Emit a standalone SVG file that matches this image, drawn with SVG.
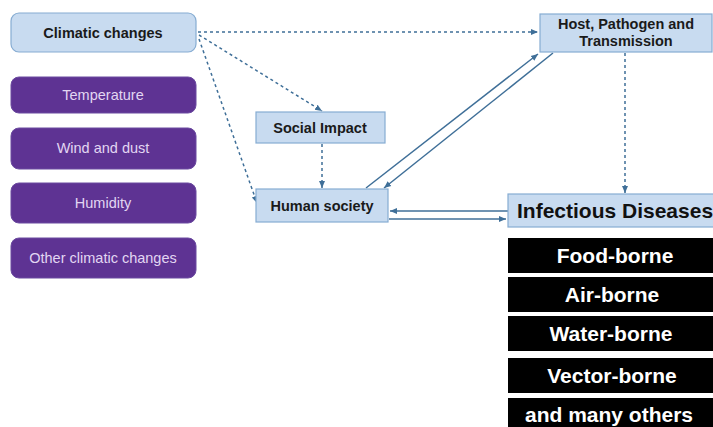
<svg xmlns="http://www.w3.org/2000/svg" width="713" height="427" viewBox="0 0 713 427">
<defs>
<style>
.blue{fill:#c8dbf0;stroke:#86acd2;stroke-width:1.2}
.purple{fill:#5e3393;stroke:#6b4aa0;stroke-width:1}
.blk{fill:#000}
.bt{font-family:"Liberation Sans",Arial,sans-serif;font-weight:bold;font-size:14.5px;fill:#1a1a1a;text-anchor:middle}
.pt{font-family:"Liberation Sans",Arial,sans-serif;font-size:14.5px;fill:#e2d6f2;text-anchor:middle}
.wt{font-family:"Liberation Sans",Arial,sans-serif;font-weight:bold;font-size:21px;fill:#fff;text-anchor:middle}
.dash{fill:none;stroke:#3f6f98;stroke-width:1.5;stroke-dasharray:3,3}
.solid{fill:none;stroke:#3f6f98;stroke-width:1.5}
</style>
<marker id="ah" markerWidth="8" markerHeight="8" refX="7" refY="4" orient="auto" markerUnits="userSpaceOnUse">
<path d="M0,1 L7,4 L0,7 Z" fill="#3f6f98"/>
</marker>
</defs>
<rect width="713" height="427" fill="#fff"/>
<g id="connectors">
<path class="dash" d="M198,32 L538,32" marker-end="url(#ah)"/>
<path class="dash" d="M199,35 L322,111" marker-end="url(#ah)"/>
<path class="dash" d="M199,39 L257,203" marker-end="url(#ah)"/>
<path class="dash" d="M322,144 L322,188" marker-end="url(#ah)"/>
<path class="dash" d="M625,53 L625,193" marker-end="url(#ah)"/>
<path class="solid" d="M366,188 L538,54" marker-end="url(#ah)"/>
<path class="solid" d="M553,53 L384,188" marker-end="url(#ah)"/>
<path class="solid" d="M508,211 L390,211" marker-end="url(#ah)"/>
<path class="solid" d="M389,219 L506,219" marker-end="url(#ah)"/>
</g>
<g id="climatic"><rect class="blue" x="11" y="13" width="185" height="39" rx="8"/><text class="bt" x="103" y="38">Climatic changes</text></g>
<g id="temperature"><rect class="purple" x="11" y="77" width="185" height="36" rx="8"/><text class="pt" x="103" y="100">Temperature</text></g>
<g id="wind"><rect class="purple" x="11" y="128" width="185" height="41" rx="8"/><text class="pt" x="103" y="153">Wind and dust</text></g>
<g id="humidity"><rect class="purple" x="11" y="183" width="185" height="40" rx="8"/><text class="pt" x="103" y="208">Humidity</text></g>
<g id="other"><rect class="purple" x="11" y="238" width="185" height="40" rx="8"/><text class="pt" x="103" y="263">Other climatic changes</text></g>
<g id="social"><rect class="blue" x="256" y="112" width="129" height="31"/><text class="bt" x="320" y="133">Social Impact</text></g>
<g id="human"><rect class="blue" x="256" y="189" width="132" height="33"/><text class="bt" x="322" y="211">Human society</text></g>
<g id="host"><rect class="blue" x="540" y="14" width="172" height="38"/><text class="bt" x="626" y="29">Host, Pathogen and</text><text class="bt" x="626" y="46">Transmission</text></g>
<g id="infectious"><rect class="blue" x="508" y="194" width="206" height="33"/><text x="517" y="218" style="font-family:'Liberation Sans',Arial,sans-serif;font-weight:bold;font-size:21px;fill:#111">Infectious Diseases</text></g>
<g id="food"><rect class="blk" x="508" y="238" width="205" height="35"/><text class="wt" x="615" y="263">Food-borne</text></g>
<g id="air"><rect class="blk" x="508" y="277" width="205" height="35"/><text class="wt" x="612" y="302">Air-borne</text></g>
<g id="water"><rect class="blk" x="508" y="316" width="205" height="35"/><text class="wt" x="611" y="341">Water-borne</text></g>
<g id="vector"><rect class="blk" x="508" y="358" width="205" height="35"/><text class="wt" x="612" y="383">Vector-borne</text></g>
<g id="others"><rect class="blk" x="508" y="398" width="205" height="30"/><text class="wt" x="609" y="422">and many others</text></g>
</svg>
